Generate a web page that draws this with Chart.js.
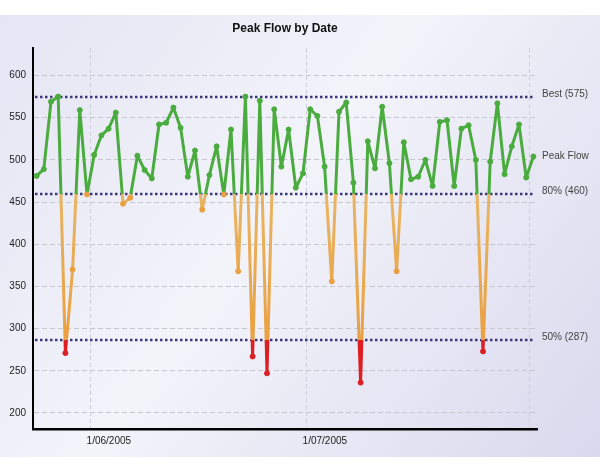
<!DOCTYPE html>
<html>
<head>
<meta charset="utf-8">
<title>Peak Flow by Date</title>
<script src="https://cdn.jsdelivr.net/npm/chart.js@4.4.1/dist/chart.umd.min.js"></script>
<style>
body { margin: 0; background: #fff; }
canvas { display: block; }
</style>
</head>
<body>
<canvas id="chart1" width="600" height="466"></canvas>
<script>
//Dates (one reading per day)
const dates = [
    '2005-05-24', '2005-05-25', '2005-05-26', '2005-05-27', '2005-05-28', '2005-05-29', '2005-05-30', '2005-05-31',
    '2005-06-01', '2005-06-02', '2005-06-03', '2005-06-04', '2005-06-05', '2005-06-06', '2005-06-07', '2005-06-08',
    '2005-06-09', '2005-06-10', '2005-06-11', '2005-06-12', '2005-06-13', '2005-06-14', '2005-06-15', '2005-06-16',
    '2005-06-17', '2005-06-18', '2005-06-19', '2005-06-20', '2005-06-21', '2005-06-22', '2005-06-23', '2005-06-24',
    '2005-06-25', '2005-06-26', '2005-06-27', '2005-06-28', '2005-06-29', '2005-06-30',
    '2005-07-01', '2005-07-02', '2005-07-03', '2005-07-04', '2005-07-05', '2005-07-06', '2005-07-07', '2005-07-08',
    '2005-07-09', '2005-07-10', '2005-07-11', '2005-07-12', '2005-07-13', '2005-07-14', '2005-07-15', '2005-07-16',
    '2005-07-17', '2005-07-18', '2005-07-19', '2005-07-20', '2005-07-21', '2005-07-22', '2005-07-23', '2005-07-24',
    '2005-07-25', '2005-07-26', '2005-07-27', '2005-07-28', '2005-07-29', '2005-07-30', '2005-07-31',
    '2005-08-01'
];

//Peak flow readings
const peakFlow = [
    481, 489, 569, 575, 271, 370, 559, 459,
    506, 529, 537, 556, 448, 455, 505, 488,
    478, 542, 544, 562, 538, 480, 511, 441,
    482, 516, 459, 536, 368, 575, 267, 570,
    247, 560, 492, 536, 467, 484,
    560, 552, 492, 356, 557, 568, 473, 236,
    522, 490, 563, 496, 368, 521, 477, 480,
    500, 469, 545, 547, 469, 537, 541, 500,
    273, 498, 567, 483, 516, 542, 479,
    504
];

//Reference lines
const refValues = [575, 460, 287];
const refLabels = ['Best (575)', '80% (460)', '50% (287)'];

//Axis ticks
const xStart = '2005-05-24';
const xEnd = '2005-08-02';
const tickDates = ['2005-06-01', '2005-07-01', '2005-08-01'];
const tickLabels = ['1/06/2005', '1/07/2005', ''];
const yTicks = [200, 250, 300, 350, 400, 450, 500, 550, 600];
const yMin = 181;
const yMax = 632.6;

//Colors
const green = '#4aac3e';
const orangeLight = '#e8b563';
const orange = '#eaa040';
const red = '#dd1f24';

function dayNum(s) {
    return Date.parse(s) / 86400000;
}

const points = dates.map((d, i) => ({ x: dayNum(d) + 0.5, y: peakFlow[i] }));

function lineColor(context) {
    const chart = context.chart;
    const area = chart.chartArea;
    if (!area) return green;
    const y = chart.scales.y;
    const h = area.bottom - area.top;
    const f80 = (y.getPixelForValue(refValues[1]) - area.top) / h;
    const f50 = (y.getPixelForValue(refValues[2]) - area.top) / h;
    const g = chart.ctx.createLinearGradient(0, area.top, 0, area.bottom);
    g.addColorStop(0, green);
    g.addColorStop(f80, green);
    g.addColorStop(f80, orangeLight);
    g.addColorStop(f50, orange);
    g.addColorStop(f50, red);
    g.addColorStop(1, red);
    return g;
}

function pointColor(context) {
    const v = context.raw ? context.raw.y : 0;
    if (v >= refValues[1]) return green;
    if (v >= refValues[2]) return orange;
    return red;
}

const backgroundPlugin = {
    id: 'background',
    beforeDraw(chart) {
        const c = chart.ctx;
        c.save();
        c.fillStyle = '#ffffff';
        c.fillRect(0, 0, chart.width, chart.height);
        const g = c.createLinearGradient(0, 15, chart.width, 457);
        g.addColorStop(0, '#e5e5f4');
        g.addColorStop(0.45, '#f3f3fa');
        g.addColorStop(1, '#d9d9ee');
        c.fillStyle = g;
        c.fillRect(0, 15, chart.width, 442);
        c.restore();
    }
};

const refLinesPlugin = {
    id: 'refLines',
    beforeDatasetsDraw(chart) {
        const c = chart.ctx;
        const area = chart.chartArea;
        const y = chart.scales.y;
        c.save();
        c.strokeStyle = '#38387a';
        c.lineWidth = 2.5;
        c.setLineDash([2.5, 2.5]);
        refValues.forEach(v => {
            const py = Math.round(y.getPixelForValue(v));
            c.beginPath();
            c.moveTo(area.left + 2, py);
            c.lineTo(area.right - 2, py);
            c.stroke();
        });
        c.restore();
    },
    afterDraw(chart) {
        const c = chart.ctx;
        const area = chart.chartArea;
        const y = chart.scales.y;
        c.save();
        c.font = '10px "Liberation Sans", Arial, sans-serif';
        c.fillStyle = '#444';
        c.textAlign = 'left';
        c.textBaseline = 'middle';
        refValues.forEach((v, i) => {
            c.fillText(refLabels[i], area.right + 5, y.getPixelForValue(v) - 2);
        });
        c.fillText('Peak Flow', area.right + 5, y.getPixelForValue(peakFlow[peakFlow.length - 1]));
        //Title centred over the plot
        c.font = 'bold 12px "Liberation Sans", Arial, sans-serif';
        c.fillStyle = '#111';
        c.textAlign = 'center';
        c.fillText('Peak Flow by Date', (area.left + area.right) / 2, 29);
        c.restore();
    }
};

const myChart1 = new Chart(document.querySelector('#chart1'), {
    type: 'line',
    data: {
        datasets: [{
            label: 'Peak Flow',
            data: points,
            borderColor: lineColor,
            borderWidth: 3,
            borderJoinStyle: 'round',
            borderCapStyle: 'round',
            tension: 0,
            pointRadius: 2.5,
            pointBorderWidth: 1,
            pointBackgroundColor: pointColor,
            pointBorderColor: pointColor
        }]
    },
    options: {
        responsive: false,
        animation: false,
        layout: {
            padding: { left: 0, right: 63, top: 48, bottom: 0 }
        },
        scales: {
            x: {
                type: 'linear',
                min: dayNum(xStart),
                max: dayNum(xEnd),
                afterBuildTicks: scale => {
                    scale.ticks = tickDates.map(d => ({ value: dayNum(d) }));
                },
                afterFit: scale => { scale.height = 37; },
                grid: { color: '#cdcdd6', drawTicks: false },
                border: { display: true, color: '#000', width: 2.5, dash: [4, 3] },
                ticks: {
                    autoSkip: false,
                    maxRotation: 0,
                    align: 'start',
                    labelOffset: -4,
                    padding: 6,
                    color: '#222',
                    font: { family: '"Liberation Sans", Arial, sans-serif', size: 10 },
                    callback: (value, index) => tickLabels[index]
                }
            },
            y: {
                min: yMin,
                max: yMax,
                afterBuildTicks: scale => {
                    scale.ticks = yTicks.map(v => ({ value: v }));
                },
                afterFit: scale => { scale.width = 33; },
                grid: { color: '#c6c6cf', drawTicks: false },
                border: { display: true, color: '#000', width: 2, dash: [5, 3] },
                ticks: {
                    autoSkip: false,
                    padding: 7,
                    color: '#222',
                    font: { family: '"Liberation Sans", Arial, sans-serif', size: 10 },
                    callback: value => String(value)
                }
            }
        },
        plugins: {
            legend: { display: false },
            title: { display: false },
            tooltip: { enabled: false }
        }
    },
    plugins: [backgroundPlugin, refLinesPlugin]
});
</script>
</body>
</html>
